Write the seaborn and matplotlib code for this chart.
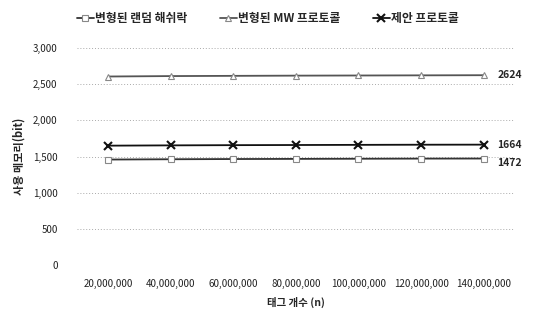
import matplotlib
matplotlib.use("Agg")
import matplotlib.pyplot as plt
import seaborn as sns
import pandas as pd
from matplotlib.ticker import FuncFormatter

tags = [20_000_000, 40_000_000, 60_000_000, 80_000_000, 100_000_000, 120_000_000, 140_000_000]
random_hash = [1458, 1462, 1465, 1467, 1469, 1471, 1472]
mw_protocol = [2606, 2612, 2615, 2618, 2620, 2622, 2624]
proposed = [1650, 1654, 1657, 1659, 1661, 1663, 1664]
series_names = ["변형된 랜덤 해쉬락", "변형된 MW 프로토콜", "제안 프로토콜"]
end_labels = ["1472", "2624", "1664"]

sns.set_theme(style="white")
plt.rcParams['font.family'] = ['Noto Sans CJK KR', 'DejaVu Sans']

df = pd.DataFrame({
    "tags": tags * 3,
    "bits": random_hash + mw_protocol + proposed,
    "series": [series_names[0]] * 7 + [series_names[1]] * 7 + [series_names[2]] * 7,
})

fig = plt.figure(figsize=(5.33, 3.15), dpi=100)
ax = fig.add_axes([0.1445, 0.1587, 0.8215, 0.6889])

styles = {
    series_names[0]: dict(color="#333333", marker="s", mfc="white", mec="#888888", ms=5, lw=1.3),
    series_names[1]: dict(color="#555555", marker="^", mfc="white", mec="#888888", ms=5, lw=1.3),
    series_names[2]: dict(color="#111111", marker="x", mfc="none", mec="#111111", ms=6, mew=1.5, lw=1.3),
}
for name in series_names:
    sub = df[df["series"] == name]
    st = styles[name]
    sns.lineplot(data=sub, x="tags", y="bits", ax=ax, label=name, color=st["color"],
                 marker=st["marker"], markerfacecolor=st["mfc"], markeredgecolor=st["mec"],
                 markersize=st["ms"], markeredgewidth=st.get("mew", 0.8), linewidth=st["lw"])

ax.set_xlim(10_000_000, 150_000_000)
ax.set_ylim(0, 3000)
ax.set_xticks(tags)
ax.set_yticks([0, 500, 1000, 1500, 2000, 2500, 3000])
ax.xaxis.set_major_formatter(FuncFormatter(lambda v, p: f"{int(v):,}"))
ax.yaxis.set_major_formatter(FuncFormatter(lambda v, p: f"{int(v):,}"))
ax.tick_params(axis="both", labelsize=7, length=0, colors="#222222")
ax.tick_params(axis="x", pad=10)
ax.tick_params(axis="y", pad=14)
ax.grid(axis="y", linestyle=(0, (1, 2)), color="#aaaaaa", linewidth=0.7)
for s in ax.spines.values():
    s.set_visible(False)

ax.set_xlabel("태그 개수 (n)", fontsize=7.5, fontweight="bold", labelpad=6)
ax.set_ylabel("사용 메모리(bit)", fontsize=8, fontweight="bold", labelpad=5)

last_vals = [random_hash[-1], mw_protocol[-1], proposed[-1]]
offsets = [-3, 0, 0]
for val, lab, off in zip(last_vals, end_labels, offsets):
    ax.annotate(lab, xy=(tags[-1], val), xytext=(10, off), textcoords="offset points",
                fontsize=7.5, fontweight="bold", va="center", ha="left", annotation_clip=False)

ax.legend(loc="center", bbox_to_anchor=(0.436, 1.135), ncol=3, frameon=False,
          handlelength=1.4, handletextpad=0.1, columnspacing=2.8,
          prop={"weight": "bold", "size": 8.5})

fig.savefig("out.png", dpi=100)
